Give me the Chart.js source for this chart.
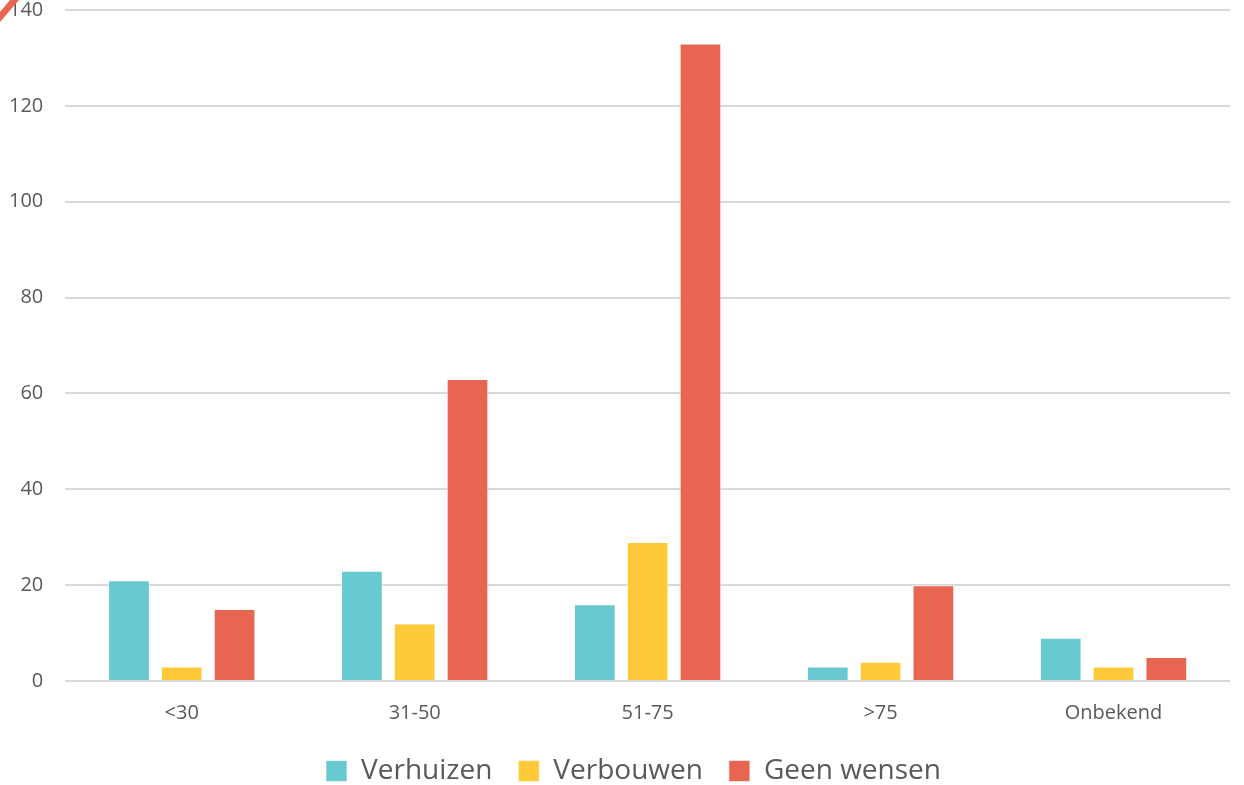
<!DOCTYPE html>
<html>
<head>
<meta charset="utf-8">
<script src="https://cdn.jsdelivr.net/npm/chart.js@4"></script>
<style>
  body { margin: 0; background: #fff; }
  #chart { display: block; }
</style>
</head>
<body>
<canvas id="chart" width="1244" height="785"></canvas>
<script>
const categories = ["<30", "31-50", "51-75", ">75", "Onbekend"];
const verhuizen = [21, 23, 16, 3, 9];
const verbouwen = [3, 12, 29, 4, 3];
const geenWensen = [15, 63, 133, 20, 5];
const yTicks = [0, 20, 40, 60, 80, 100, 120, 140];

const textColor = "#595959";
const gridColor = "#d9d9d9";

// little red corner mark seen in the top-left of the original
const cornerMark = {
  id: "cornerMark",
  afterDraw(chart) {
    const c = chart.ctx;
    c.save();
    c.fillStyle = "#e86551";
    c.beginPath();
    c.moveTo(10, 0);
    c.lineTo(19, 0);
    c.lineTo(0, 22);
    c.lineTo(0, 12);
    c.closePath();
    c.fill();
    c.restore();
  }
};

// the legend sits a bit right of centre in the original
const legendShift = {
  id: "legendShift",
  afterLayout(chart) {
    chart.legend.left += 25;
    chart.legend.right += 25;
  }
};

const ctx = document.getElementById("chart").getContext("2d");
new Chart(ctx, {
  type: "bar",
  data: {
    labels: categories,
    datasets: [
      { label: "Verhuizen", data: verhuizen, backgroundColor: "#68c9d0" },
      { label: "Verbouwen", data: verbouwen, backgroundColor: "#ffca3a" },
      { label: "Geen wensen", data: geenWensen, backgroundColor: "#e86551" },
    ]
  },
  options: {
    responsive: false,
    animation: false,
    layout: { padding: { left: -13, right: 14, top: 0, bottom: -10 } },
    datasets: {
      bar: {
        categoryPercentage: 0.68,
        barPercentage: 0.79,
        borderWidth: 1,
        borderColor: "rgba(255,255,255,0.6)",
        borderSkipped: "bottom"
      }
    },
    plugins: {
      legend: {
        position: "bottom",
        labels: {
          font: { family: "'Open Sans'", size: 28 },
          color: textColor,
          boxWidth: 21,
          boxHeight: 21,
          padding: 26
        }
      },
      tooltip: { enabled: false }
    },
    scales: {
      x: {
        grid: { display: false },
        border: { display: false },
        afterFit: scale => { scale.height -= 6; },
        ticks: {
          font: { family: "'Open Sans'", size: 20 },
          color: textColor,
          padding: 12
        }
      },
      y: {
        min: 0,
        max: 140,
        afterBuildTicks: axis => { axis.ticks = yTicks.map(v => ({ value: v })); },
        afterFit: scale => { scale.paddingTop = 10; scale.paddingBottom = 0; },
        grid: { color: gridColor, lineWidth: 2, drawTicks: false },
        border: { display: false },
        ticks: {
          font: { family: "'Open Sans'", size: 20 },
          color: textColor,
          padding: 22
        }
      }
    }
  },
  plugins: [cornerMark, legendShift]
});
</script>
</body>
</html>
